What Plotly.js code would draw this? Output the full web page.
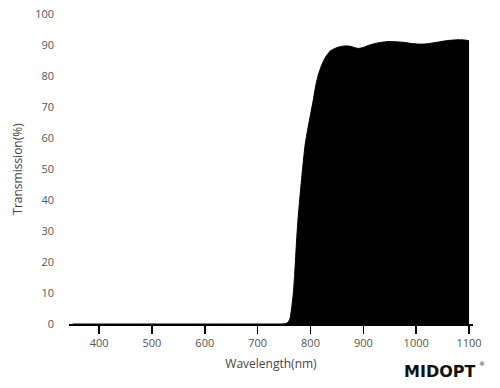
<!DOCTYPE html>
<html>
<head>
<meta charset="utf-8">
<script src="https://cdn.plot.ly/plotly-3.0.1.min.js"></script>
<style>html,body{margin:0;padding:0;background:#fff;}#chart{width:500px;height:388px;}</style>
</head>
<body>
<div id="chart"></div>
<script>
const wavelength = [350, 400, 500, 600, 700, 740, 752, 757, 761, 764, 767, 770, 773, 776, 780, 785, 790, 795, 800, 805, 810, 815, 820, 825, 830, 837, 845, 855, 865, 875, 883, 890, 895, 900, 910, 925, 940, 950, 965, 975, 990, 1005, 1015, 1025, 1040, 1057, 1070, 1082, 1092, 1100];
const transmission = [0, 0, 0, 0, 0, 0, 0.1, 0.5, 1.6, 4.8, 9, 16, 25, 33, 41, 50, 58, 63, 67.5, 72, 77, 80.5, 83, 85, 86.5, 88, 88.8, 89.4, 89.7, 89.6, 89.2, 88.9, 89.0, 89.2, 89.9, 90.6, 91.0, 91.1, 91.0, 90.9, 90.5, 90.3, 90.3, 90.5, 90.9, 91.4, 91.6, 91.7, 91.6, 91.4];
const xTicks = [400, 500, 600, 700, 800, 900, 1000, 1100];
const yTicks = [0, 10, 20, 30, 40, 50, 60, 70, 80, 90, 100];

const trace = {
  x: wavelength, y: transmission, type: 'scatter', mode: 'lines',
  fill: 'tozeroy', fillcolor: '#000', line: {color: '#000', width: 1, shape: 'spline', smoothing: 0.6},
  hoverinfo: 'skip'
};
const font = {family: '"Open Sans", "DejaVu Sans", sans-serif', size: 11, color: '#555'};
const layout = {
  width: 500, height: 388,
  margin: {l: 69, r: 27, t: 14, b: 64},
  paper_bgcolor: '#fff', plot_bgcolor: '#fff',
  showlegend: false,
  font: font,
  xaxis: {
    range: [343, 1107.5], tickvals: xTicks, ticktext: xTicks.map(String),
    showgrid: false, zeroline: false, showline: true, linecolor: '#000', linewidth: 2,
    ticks: 'outside', ticklen: 8, tickwidth: 1.5, tickcolor: '#000',
    tickfont: {family: font.family, size: 11, color: '#555'},
    title: {text: 'Wavelength(nm)', standoff: 10, font: {family: font.family, size: 12, color: '#444'}}
  },
  yaxis: {
    range: [0, 100], tickvals: yTicks, ticktext: yTicks.map(String),
    showgrid: false, zeroline: false, showline: false, ticks: '',
    ticklabelstandoff: 14,
    tickfont: {family: font.family, size: 11, color: '#555'},
    title: {text: 'Transmission(%)', standoff: 9, font: {family: font.family, size: 12, color: '#444'}}
  },
  annotations: [{
    xref: 'paper', yref: 'paper', x: 0.918, y: -0.152, xanchor: 'center', yanchor: 'middle',
    text: '<b>MIDOPT</b>', showarrow: false, borderpad: 0,
    font: {family: '"DejaVu Sans", sans-serif', size: 16, color: '#111'}
  }, {
    xref: 'paper', yref: 'paper', x: 1.012, y: -0.128, xanchor: 'left', yanchor: 'middle',
    text: '®', showarrow: false, borderpad: 0,
    font: {family: '"DejaVu Sans", sans-serif', size: 6, color: '#111'}
  }]
};
Plotly.newPlot('chart', [trace], layout, {displayModeBar: false, staticPlot: true});
</script>
</body>
</html>
